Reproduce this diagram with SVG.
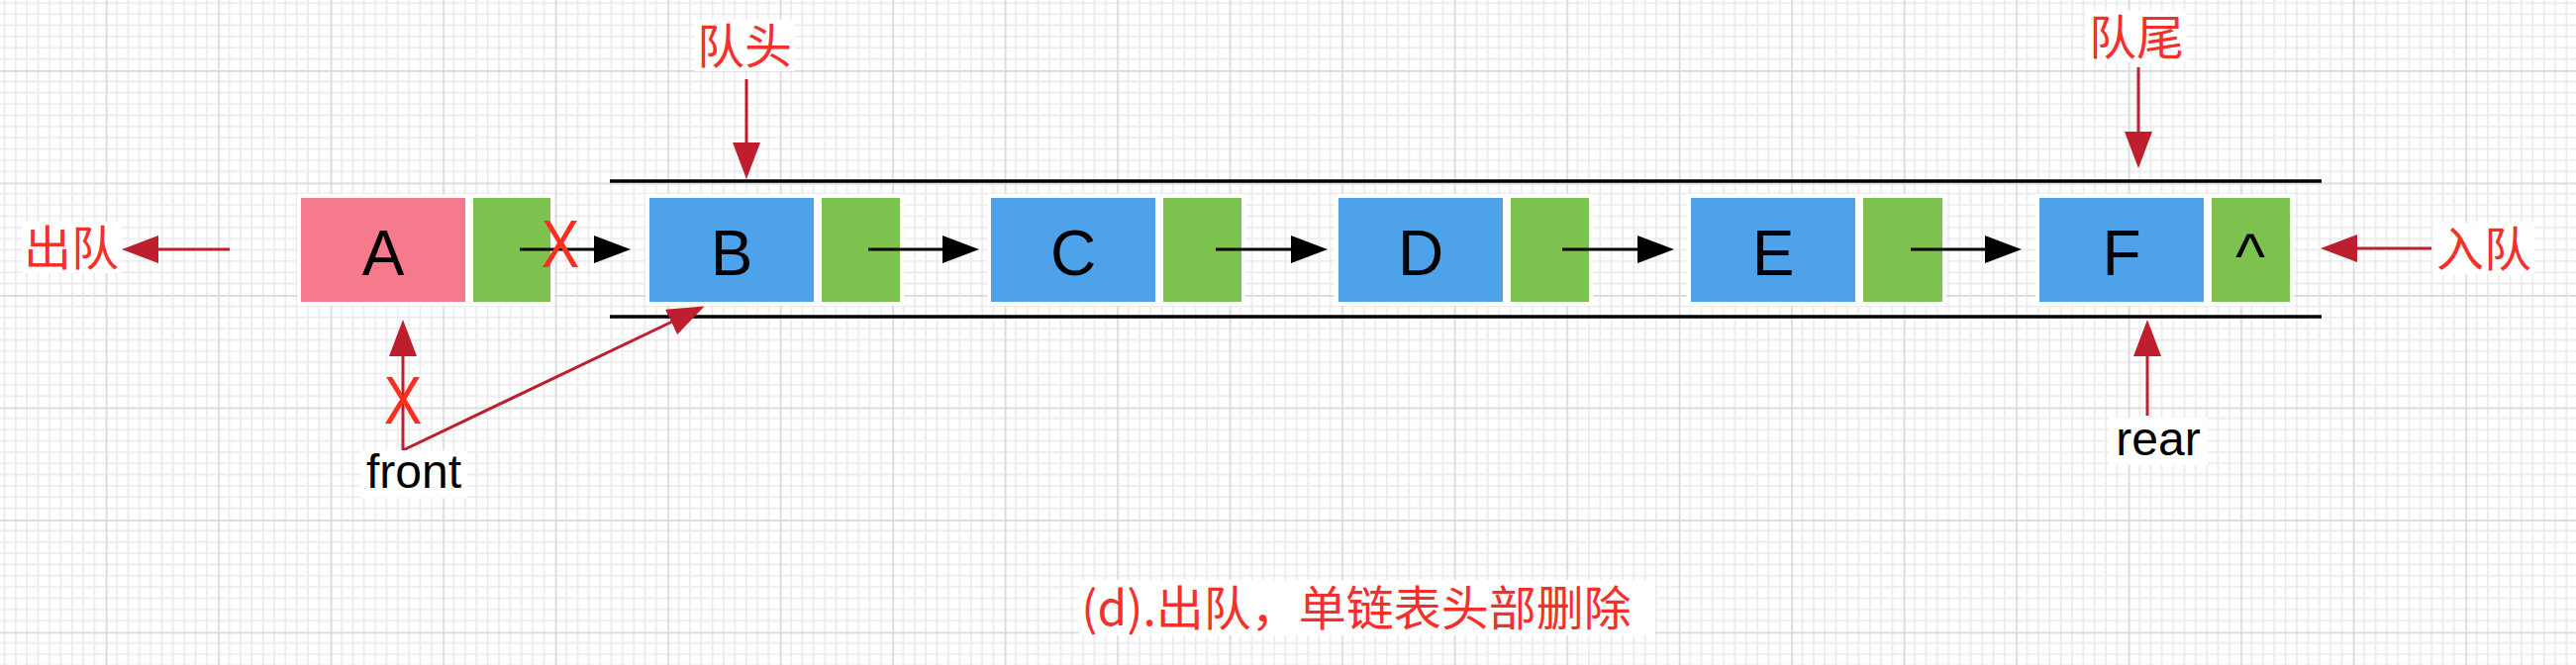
<svg xmlns="http://www.w3.org/2000/svg" width="2602" height="672" viewBox="0 0 2602 672">
<style>
.cjk{font-family:"Noto Sans CJK SC","Liberation Sans",sans-serif;font-size:48px;fill:#F5302A;text-anchor:middle;}
.val{font-family:"Liberation Sans",sans-serif;font-size:64px;fill:#000;text-anchor:middle;}
.ptr{font-family:"Liberation Sans",sans-serif;font-size:48px;fill:#000;text-anchor:middle;}
.cross{font-family:"Liberation Sans",sans-serif;font-size:68px;fill:#FF2D1E;text-anchor:middle;}
.data{stroke:#fff;stroke-width:4;}
.pink{fill:#F47A8C;}
.blue{fill:#4DA2EA;}
.green{fill:#7DC24E;}
.bg{fill:#fff;}
.blk{stroke:#000;stroke-width:3;fill:none;}
.red{stroke:#BE1E2D;stroke-width:3;fill:none;}
.rail{stroke:#000;stroke-width:3.5;}
</style>
<defs>
<pattern id="grid" patternUnits="userSpaceOnUse" x="106.7" y="71" width="113.5" height="113.5">
<path d="M11.35 0V113.5M22.7 0V113.5M34.05 0V113.5M45.4 0V113.5M56.75 0V113.5M68.1 0V113.5M79.45 0V113.5M90.8 0V113.5M102.15 0V113.5M0 11.35H113.5M0 22.7H113.5M0 34.05H113.5M0 45.4H113.5M0 56.75H113.5M0 68.1H113.5M0 79.45H113.5M0 90.8H113.5M0 102.15H113.5" stroke="#EAEAEA" stroke-width="1.6" fill="none"/>
<path d="M0.8 0V113.5M0 0.8H113.5" stroke="#D9D9D9" stroke-width="1.8" fill="none"/>
</pattern>
<marker id="ab" viewBox="0 0 37 28" refX="1" refY="14" markerWidth="37" markerHeight="28" markerUnits="userSpaceOnUse" orient="auto">
<path d="M0 0L37 14L0 28Z" fill="#000"/>
</marker>
<marker id="ar" viewBox="0 0 37 28" refX="1" refY="14" markerWidth="37" markerHeight="28" markerUnits="userSpaceOnUse" orient="auto">
<path d="M0 0L37 14L0 28Z" fill="#BE1E2D"/>
</marker>
</defs>
<rect width="2602" height="672" fill="#fff"/>
<rect width="2602" height="672" fill="url(#grid)"/>

<g id="rails">
<line class="rail" x1="616" y1="183" x2="2345" y2="183"/>
<line class="rail" x1="616" y1="320" x2="2345" y2="320"/>
</g>

<g id="node-A">
<rect class="data pink" x="302" y="198" width="170" height="109"/>
<rect class="data green" x="476" y="198" width="82" height="109"/>
<text class="val" x="387" y="278">A</text>
</g>
<g id="node-B">
<rect class="data blue" x="654" y="198" width="170" height="109"/>
<rect class="data green" x="828" y="198" width="83" height="109"/>
<text class="val" x="739" y="278">B</text>
</g>
<g id="node-C">
<rect class="data blue" x="999" y="198" width="170" height="109"/>
<rect class="data green" x="1173" y="198" width="83" height="109"/>
<text class="val" x="1084" y="278">C</text>
</g>
<g id="node-D">
<rect class="data blue" x="1350" y="198" width="170" height="109"/>
<rect class="data green" x="1524" y="198" width="83" height="109"/>
<text class="val" x="1435" y="278">D</text>
</g>
<g id="node-E">
<rect class="data blue" x="1706" y="198" width="170" height="109"/>
<rect class="data green" x="1880" y="198" width="84" height="109"/>
<text class="val" x="1791" y="278">E</text>
</g>
<g id="node-F">
<rect class="data blue" x="2058" y="198" width="170" height="109"/>
<rect class="data green" x="2232" y="198" width="83" height="109"/>
<text class="val" x="2143" y="278">F</text>
<text class="val" x="2273" y="281">^</text>
</g>

<g id="connectors">
<line class="blk" x1="525" y1="252" x2="601" y2="252" marker-end="url(#ab)"/>
<line class="blk" x1="877" y1="252" x2="953" y2="252" marker-end="url(#ab)"/>
<line class="blk" x1="1228" y1="252" x2="1305" y2="252" marker-end="url(#ab)"/>
<line class="blk" x1="1578" y1="252" x2="1655" y2="252" marker-end="url(#ab)"/>
<line class="blk" x1="1930" y1="252" x2="2006" y2="252" marker-end="url(#ab)"/>
<line class="red" x1="232" y1="252" x2="159" y2="252" marker-end="url(#ar)"/>
<line class="red" x1="2456" y1="251" x2="2380" y2="251" marker-end="url(#ar)"/>
<line class="red" x1="754" y1="80" x2="754" y2="145" marker-end="url(#ar)"/>
<line class="red" x1="2160" y1="68" x2="2160" y2="134" marker-end="url(#ar)"/>
<line class="red" x1="2169" y1="420" x2="2169" y2="359" marker-end="url(#ar)"/>
<line class="red" x1="407" y1="455" x2="407" y2="359" marker-end="url(#ar)"/>
<line class="red" x1="407" y1="455" x2="679" y2="325" marker-end="url(#ar)"/>
</g>

<g id="cross-marks">
<text class="cross" transform="translate(566 270) scale(0.85 1)">X</text>
<text class="cross" transform="translate(407 428) scale(0.85 1)">X</text>
</g>

<g id="label-dequeue">
<rect class="bg" x="22" y="224" width="100" height="52"/>
<text class="cjk" x="72" y="268">出队</text>
</g>
<g id="label-enqueue">
<rect class="bg" x="2458" y="225" width="102" height="52"/>
<text class="cjk" x="2509" y="269">入队</text>
</g>
<g id="label-head">
<rect class="bg" x="701" y="20" width="102" height="52"/>
<text class="cjk" x="752" y="64">队头</text>
</g>
<g id="label-tail">
<rect class="bg" x="2107" y="11" width="102" height="52"/>
<text class="cjk" x="2158" y="55">队尾</text>
</g>
<g id="label-front">
<rect class="bg" x="364" y="455" width="108" height="48"/>
<text class="ptr" x="418" y="493">front</text>
</g>
<g id="label-rear">
<rect class="bg" x="2130" y="422" width="100" height="48"/>
<text class="ptr" x="2180" y="460">rear</text>
</g>
<g id="caption">
<rect class="bg" x="1090" y="586" width="582" height="56"/>
<text class="cjk" x="1370" y="632">(d).出队，单链表头部删除</text>
</g>
</svg>
